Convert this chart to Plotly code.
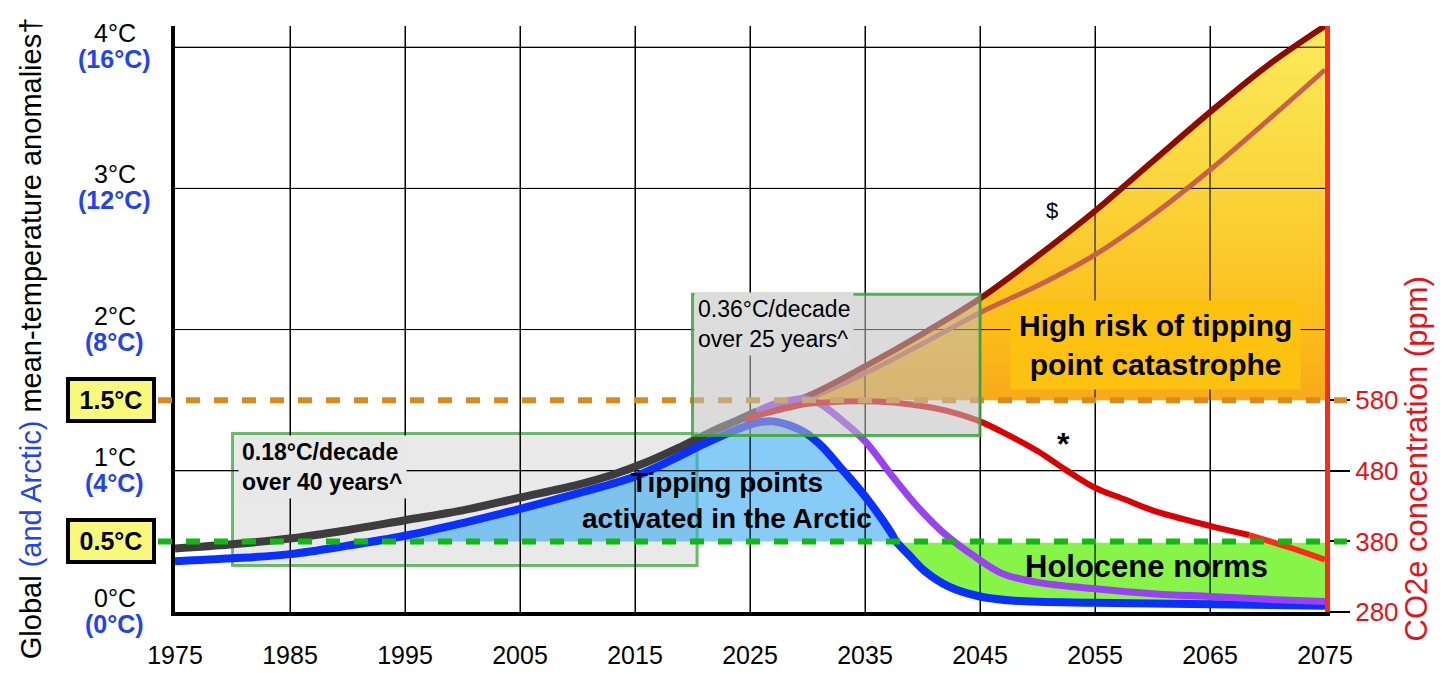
import plotly.graph_objects as go

# ---------------- data ----------------
year_ticks = list(range(1975, 2076, 10))
temp_ticks = [0, 1, 2, 3, 4]
arctic_ticks = [0, 4, 8, 12, 16]
co2_ticks = [280, 380, 480, 580]

# observed global anomaly (dark grey)
obs_years = [1975, 1980, 1985, 1990, 1995, 2000, 2005, 2010, 2013, 2016, 2019, 2022, 2024, 2025.6]
obs_temp = [0.45, 0.48, 0.52, 0.58, 0.65, 0.72, 0.81, 0.90, 0.97, 1.06, 1.17, 1.29, 1.36, 1.42]

# Arctic (blue)
arc_years = [1975, 1980, 1985, 1990, 1995, 2000, 2005, 2010, 2015, 2018, 2021, 2023.8, 2025.5,
             2027, 2028.5, 2029.8, 2031.3, 2032.8, 2035, 2037.2, 2037.7, 2038.75, 2040.2,
             2042.3, 2045, 2048, 2055, 2065, 2075]
arc_temp = [0.36, 0.38, 0.41, 0.47, 0.54, 0.63, 0.73, 0.84, 0.96, 1.07, 1.19, 1.29, 1.34,
            1.35, 1.32, 1.27, 1.17, 1.03, 0.82, 0.57, 0.50, 0.41, 0.29,
            0.18, 0.11, 0.08, 0.065, 0.055, 0.045]

# purple restoration path
pur_years = [2025.6, 2027, 2028.5, 2029.8, 2031, 2032.8, 2035, 2037.2, 2039.3, 2041.7,
             2044.6, 2047, 2050, 2055, 2060, 2065, 2070, 2075]
pur_temp = [1.42, 1.47, 1.50, 1.51, 1.48, 1.37, 1.21, 0.98, 0.77, 0.57,
            0.39, 0.27, 0.21, 0.165, 0.13, 0.11, 0.09, 0.075]

# business-as-usual ($, dark red) and lighter red-brown path
bau_years = [2025.6, 2030, 2035, 2040, 2045, 2050, 2055, 2060, 2065, 2070, 2075]
bau_temp = [1.42, 1.53, 1.74, 1.97, 2.22, 2.52, 2.84, 3.19, 3.54, 3.87, 4.15]
alt_years = [2025.6, 2030, 2035, 2040, 2045, 2050, 2055, 2060, 2065, 2070, 2075]
alt_temp = [1.42, 1.51, 1.69, 1.90, 2.12, 2.31, 2.53, 2.81, 3.13, 3.48, 3.84]

# CO2e concentration (ppm, right axis)
co2_years = [2024.5, 2026, 2028, 2030, 2033, 2036, 2039, 2041, 2043, 2045, 2047.3,
             2050, 2052.4, 2055, 2057.5, 2060, 2065, 2068.4]
co2_ppm = [552, 560, 568, 575, 578, 578, 574, 569, 561, 550, 532,
           508, 482, 456, 440, 424, 402, 389]
co2_end_years = [2068.4, 2072, 2075]
co2_end_ppm = [389, 371, 354]

# thresholds / periods
LIMIT_HIGH = 1.5
LIMIT_LOW = 0.5
HOLO_TOP = 0.49
ARCTIC_FILL_START = 1995
RISK_START = 2029.0
period1 = (1980, 2020.4, 0.33, 1.265)
period2 = (2020, 2045, 1.25, 2.25)

X_MIN, X_MAX = 1975, 2075
T_MAX = 4.15
PPM_BASE, PPM_PER_DEG = 280, 200

FONT = "Liberation Sans, Arial, Helvetica, sans-serif"
BLUE_TXT = "#2143f2"
RED_TXT = "#e3131b"

fig = go.Figure()

# ---- fills ----
rx = [RISK_START] + [x for x in bau_years if x > RISK_START] + [X_MAX, RISK_START]
ry = [LIMIT_HIGH] + [y for x, y in zip(bau_years, bau_temp) if x > RISK_START] + [LIMIT_HIGH, LIMIT_HIGH]
fig.add_trace(go.Scatter(
    x=rx, y=ry, mode="lines", fill="toself", line=dict(width=0),
    fillgradient=dict(type="vertical", colorscale=[
        [0.0, "rgba(248,160,0,0.9)"], [0.19, "rgba(251,181,0,0.9)"],
        [0.57, "rgba(250,208,36,0.9)"], [1.0, "rgba(250,233,74,0.9)"]]),
    hoverinfo="skip", showlegend=False))

ax_pts = [(x, y) for x, y in zip(arc_years, arc_temp) if ARCTIC_FILL_START <= x <= 2037.7]
bx = [ARCTIC_FILL_START] + [p[0] for p in ax_pts] + [ARCTIC_FILL_START]
by = [LIMIT_LOW] + [p[1] for p in ax_pts] + [LIMIT_LOW]
fig.add_trace(go.Scatter(x=bx, y=by, mode="lines", fill="toself", line=dict(width=0),
                         fillcolor="rgba(53,170,240,0.6)", hoverinfo="skip", showlegend=False))

hx_pts = [(x, y) for x, y in zip(arc_years, arc_temp) if x >= 2038.5]
gx = [2037.8, X_MAX] + [p[0] for p in reversed(hx_pts)] + [2037.8]
gy = [HOLO_TOP, HOLO_TOP] + [p[1] for p in reversed(hx_pts)] + [HOLO_TOP]
fig.add_trace(go.Scatter(x=gx, y=gy, mode="lines", fill="toself", line=dict(width=0),
                         fillcolor="rgba(88,241,0,0.72)", hoverinfo="skip", showlegend=False))

# grid drawn above the fills (built from the tick arrays)
grx, gry = [], []
for xv in year_ticks[1:-1]:
    grx += [xv, xv, None]
    gry += [0, T_MAX, None]
for tv in temp_ticks[1:]:
    grx += [X_MIN, X_MAX, None]
    gry += [tv, tv, None]
fig.add_trace(go.Scatter(x=grx, y=gry, mode="lines", line=dict(color="black", width=1),
                         hoverinfo="skip", showlegend=False))

# ---- lines ----
def line(x, y, color, width, yaxis="y"):
    fig.add_trace(go.Scatter(x=x, y=y, mode="lines", yaxis=yaxis,
                             line=dict(color=color, width=width, shape="spline", smoothing=1.0),
                             hoverinfo="skip", showlegend=False))

line(obs_years, obs_temp, "#3d3d3d", 8)
line(arc_years, arc_temp, "#0a30ff", 8)
line(alt_years, alt_temp, "#c8604e", 5)
line(bau_years, bau_temp, "#8c0c00", 6)
line(pur_years, pur_temp, "#9a40f5", 7)
line(co2_years, co2_ppm, "#dd0000", 6, yaxis="y2")
line(co2_end_years, co2_end_ppm, "#ff2a1a", 6, yaxis="y2")

# ---- shapes ----
shapes = [
    dict(type="rect", xref="x", yref="y", x0=period1[0], x1=period1[1], y0=period1[2], y1=period1[3],
         fillcolor="rgba(200,200,200,0.4)", line=dict(color="rgba(60,165,60,0.75)", width=3), layer="below"),
    dict(type="line", xref="paper", yref="y", x0=-0.0148, x1=1.019, y0=LIMIT_HIGH, y1=LIMIT_HIGH,
         line=dict(color="#db8a1f", width=6, dash="14px,14px"), layer="above"),
    dict(type="line", xref="paper", yref="y", x0=-0.0148, x1=1.019, y0=LIMIT_LOW, y1=LIMIT_LOW,
         line=dict(color="#12b712", width=6, dash="14px,14px"), layer="above"),
    dict(type="rect", xref="x", yref="y", x0=period2[0], x1=period2[1], y0=period2[2], y1=period2[3],
         fillcolor="rgba(190,190,190,0.55)", line=dict(color="rgba(60,165,60,0.85)", width=3), layer="above"),
]

# ---- annotations ----
ann = []
LBL_X = -0.0525
for t, a in zip(temp_ticks, arctic_ticks):
    ann.append(dict(x=LBL_X, xref="paper", y=t, yref="y", yshift=14, showarrow=False,
                    xanchor="center", yanchor="middle",
                    text=f"{t}°C", font=dict(size=25, color="black", family=FONT)))
    ann.append(dict(x=LBL_X, xref="paper", y=t, yref="y", yshift=-12, showarrow=False,
                    xanchor="center", yanchor="middle",
                    text=f"<b>({a}°C)</b>", font=dict(size=25, color=BLUE_TXT, family=FONT)))
for v in [LIMIT_HIGH, LIMIT_LOW]:
    ann.append(dict(x=-0.0555, xref="paper", y=v, yref="y", showarrow=False,
                    xanchor="center", yanchor="middle",
                    text=f"<b>{v}°C</b>", font=dict(size=25, color="black", family=FONT),
                    bgcolor="#f8f87a", bordercolor="black", borderwidth=4, borderpad=5,
                    width=72, height=28))

ann += [
    dict(x=-0.1250, xref="paper", y=0.4676, yref="paper", textangle=-90, showarrow=False,
         xanchor="center", yanchor="middle",
         text=f"Global <span style='color:{BLUE_TXT}'>(and Arctic)</span> mean-temperature anomalies†",
         font=dict(size=29, color="black", family=FONT)),
    dict(x=1.0795, xref="paper", y=0.261, yref="paper", textangle=-90, showarrow=False,
         xanchor="center", yanchor="middle",
         text="CO2e concentration (ppm)", font=dict(size=31, color=RED_TXT, family=FONT)),
    dict(x=1980.5, y=1.03, xanchor="left", yanchor="middle", showarrow=False, align="left",
         text="<b>0.18°C/decade<br>over 40 years^</b>", bgcolor="#e8e8e8", borderpad=3,
         font=dict(size=23, color="black", family=FONT)),
    dict(x=2020.1, y=2.04, xanchor="left", yanchor="middle", showarrow=False, align="left",
         text="0.36°C/decade<br>over 25 years^", bgcolor="#dcdcdc", borderpad=3,
         font=dict(size=23, color="black", family=FONT)),
    dict(x=2023.0, y=0.79, xanchor="center", yanchor="middle", showarrow=False, align="center",
         text="<b>Tipping points<br>activated in the Arctic</b>",
         font=dict(size=28, color="black", family=FONT)),
    dict(x=2060.3, y=1.89, xanchor="center", yanchor="middle", showarrow=False, align="center",
         text="<b>High risk of tipping<br>point catastrophe</b>", bgcolor="#fdc20f", borderpad=8,
         font=dict(size=30, color="black", family=FONT)),
    dict(x=2059.5, y=0.32, xanchor="center", yanchor="middle", showarrow=False,
         text="<b>Holocene norms</b>", font=dict(size=31, color="black", family=FONT)),
    dict(x=2051.3, y=2.84, xanchor="center", yanchor="middle", showarrow=False, text="$",
         font=dict(size=22, color="black", family=FONT)),
    dict(x=2052.3, y=1.19, xanchor="center", yanchor="middle", showarrow=False, text="<b>*</b>",
         font=dict(size=32, color="black", family=FONT)),
]

fig.update_layout(
    width=1445, height=673,
    margin=dict(l=167, r=128, t=18, b=54),
    paper_bgcolor="white", plot_bgcolor="white",
    showlegend=False,
    font=dict(family=FONT, color="black"),
    xaxis=dict(range=[X_MIN, X_MAX], tickvals=year_ticks, showgrid=True, gridcolor="black",
               gridwidth=1, showline=True, linecolor="black", linewidth=4, zeroline=False,
               ticks="", tickfont=dict(size=25, color="black", family=FONT),
               ticklabelstandoff=18),
    yaxis=dict(range=[0, T_MAX], tickvals=temp_ticks, showticklabels=False, showgrid=True,
               gridcolor="black", gridwidth=1, showline=True, linecolor="black", linewidth=4,
               zeroline=False, ticks=""),
    yaxis2=dict(overlaying="y", side="right", range=[PPM_BASE, PPM_BASE + PPM_PER_DEG * T_MAX],
                tickvals=co2_ticks, showgrid=False, zeroline=False, showline=True,
                linecolor="#ff2a1a", linewidth=5, ticks="outside", ticklen=20, tickwidth=1.5,
                tickcolor="black", tickfont=dict(size=26, color=RED_TXT, family=FONT)),
    shapes=shapes,
    annotations=ann,
)

fig.write_html("out.html")
